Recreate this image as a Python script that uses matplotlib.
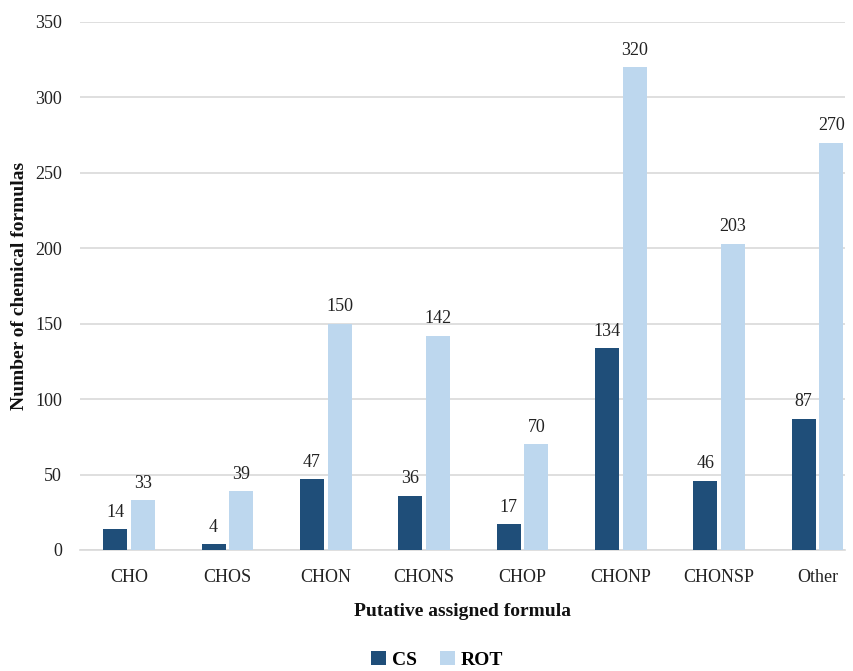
import matplotlib
matplotlib.use("Agg")
import matplotlib.pyplot as plt
import numpy as np

categories = ["CHO", "CHOS", "CHON", "CHONS", "CHOP", "CHONP", "CHONSP", "Other"]
cs_values = [14, 4, 47, 36, 17, 134, 46, 87]
rot_values = [33, 39, 150, 142, 70, 320, 203, 270]
y_ticks = [0, 50, 100, 150, 200, 250, 300, 350]

plt.rcParams["font.family"] = ["Liberation Serif", "DejaVu Serif"]

fig = plt.figure(figsize=(8.54, 6.71), dpi=100)
ax = fig.add_axes([80 / 854, (671 - 550) / 671, (845 - 80) / 854, (550 - 22) / 671])

x = np.arange(len(categories))
w = 0.244
off = 0.142
c_cs = "#1F4E79"
c_rot = "#BDD7EE"
txt = "#222222"

b1 = ax.bar(x - off, cs_values, w, color=c_cs, label="CS", zorder=3)
b2 = ax.bar(x + off, rot_values, w, color=c_rot, label="ROT", zorder=3)

for bars, vals in ((b1, cs_values), (b2, rot_values)):
    for b, v in zip(bars, vals):
        ax.annotate(str(v), (b.get_x() + b.get_width() / 2, v),
                    xytext=(0, 6), textcoords="offset points",
                    ha="center", va="bottom", fontsize=13, color=txt)

ax.set_xlim(-0.5, 7.28)
ax.set_ylim(0, 350)
ax.set_yticks(y_ticks)
ax.set_xticks(x)
ax.set_xticklabels(categories)
ax.tick_params(axis="both", length=0, labelsize=13, colors=txt)
ax.tick_params(axis="x", pad=14)
ax.tick_params(axis="y", pad=13)

ax.grid(axis="y", color="#D9D9D9", linewidth=1.2, zorder=0)
for s in ("top", "right", "left"):
    ax.spines[s].set_visible(False)
ax.spines["bottom"].set_color("#D9D9D9")
ax.spines["bottom"].set_linewidth(1.2)

ax.set_xlabel("Putative assigned formula", fontsize=14, fontweight="bold",
              labelpad=12, color="#111111")
ax.set_ylabel("Number of chemical formulas", fontsize=14, fontweight="bold",
              color="#111111")
ax.yaxis.set_label_coords(-0.068, 0.5)

fig.legend(handles=[b1, b2], labels=["CS", "ROT"], loc="center",
           bbox_to_anchor=(437 / 854, 1 - 660 / 671), ncol=2, frameon=False,
           prop={"weight": "bold", "size": 14},
           handlelength=0.75, handleheight=0.75, handletextpad=0.3, columnspacing=1.2)

fig.savefig("out.png", dpi=100)
